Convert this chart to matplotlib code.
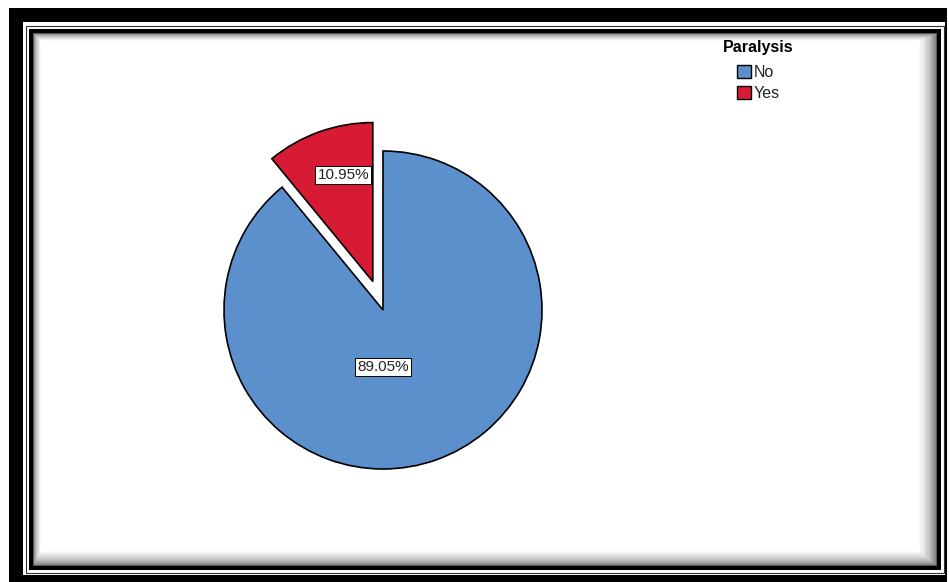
import matplotlib
matplotlib.use("Agg")
import matplotlib.pyplot as plt
from matplotlib.patches import Rectangle

categories = ["No", "Yes"]
values = [89.05, 10.95]
colors = ["#5B90CD", "#D71B34"]
legend_title = "Paralysis"

W, H = 949, 582
fig = plt.figure(figsize=(W / 100, H / 100), dpi=100)
fig.patch.set_facecolor("white")
plt.rcParams["font.family"] = ["Liberation Sans", "DejaVu Sans"]


def prect(x0, y0, x1, y1, **kw):
    r = Rectangle((x0 / W, 1 - y1 / H), (x1 - x0) / W, (y1 - y0) / H,
                  transform=fig.transFigure, zorder=-10, **kw)
    fig.patches.append(r)
    return r


# frame
prect(9, 8, 947, 582, facecolor="black", edgecolor="none")
prect(23, 22, 945, 575, facecolor="white", edgecolor="none")
prect(25.5, 25.5, 943.5, 572.5, facecolor="none", edgecolor="#333333", linewidth=0.8)
prect(29, 29, 941, 570, facecolor="black", edgecolor="none")
n = 16
for i in range(n):
    t = i / (n - 1)
    g = 0.35 + 0.65 * (t ** 0.5)
    prect(33 + i * 0.5, 33 + i * 0.5, 937 - i * 1.2, 566 - i * 1.0,
          facecolor=(g, g, g), edgecolor="none")

# pie axes: centre (383,310) px, radius 159 px
R = 159
L = 1.25
cx, cy = 383, 310
ax = fig.add_axes([(cx - L * R) / W, (H - cy - L * R) / H, 2 * L * R / W, 2 * L * R / H])
ax.set_facecolor("none")

wedges, texts, autotexts = ax.pie(
    values, colors=colors, startangle=90, counterclock=False,
    explode=[0, 0.19], radius=1,
    autopct=lambda p: f"{p:.2f}%", pctdistance=0.7,
    wedgeprops=dict(edgecolor="black", linewidth=1.2),
    textprops=dict(fontsize=11, color="#222222"),
)
autotexts[0].set_position((0, -0.36))
autotexts[1].set_position((-0.25, 0.85))
for t in autotexts:
    t.set_bbox(dict(facecolor="white", edgecolor="black", linewidth=0.7, pad=0.14, boxstyle="square"))
ax.set_xlim(-L, L)
ax.set_ylim(-L, L)
ax.set_aspect("equal")
ax.axis("off")

leg = fig.legend(wedges, categories, title=legend_title,
                 loc="upper left", bbox_to_anchor=(712 / W, 1 - 29 / H),
                 frameon=False, fontsize=11.5, title_fontproperties=dict(weight="bold", size=11.5),
                 handlelength=0.85, handleheight=0.85, handletextpad=0.2,
                 labelspacing=0.4, borderpad=0.2)
leg._legend_box.sep = 7.0
for t in leg.get_texts():
    t.set_color("#222222")
for h in leg.legend_handles:
    h.set_edgecolor("black")
    h.set_linewidth(1.0)

fig.savefig("out.png", dpi=100)
